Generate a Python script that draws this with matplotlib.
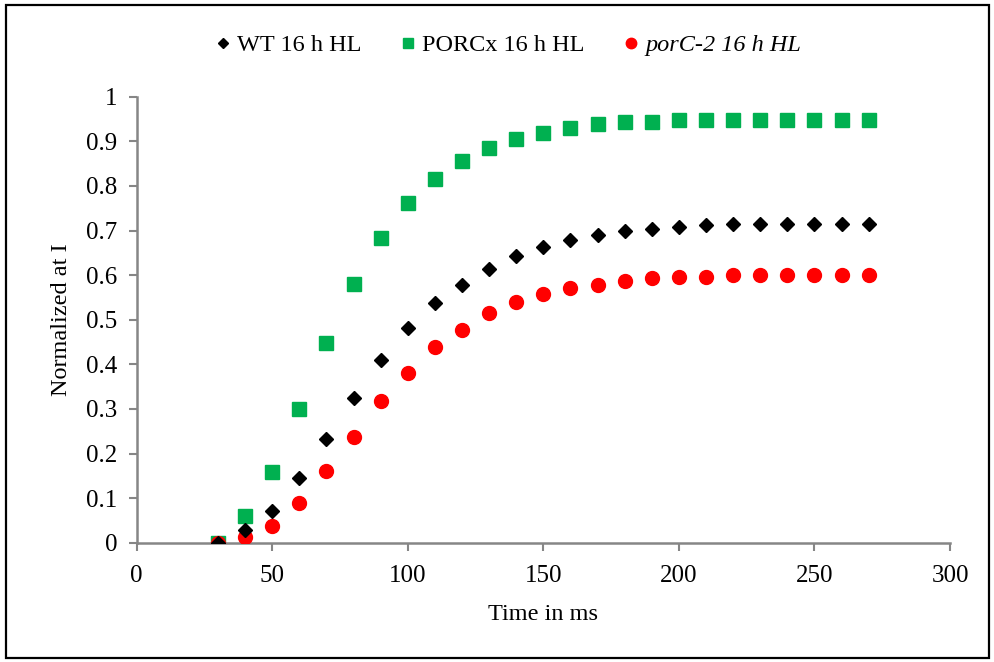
import numpy as np
import matplotlib.pyplot as plt
from matplotlib.patches import Rectangle

plt.rcParams['font.family'] = ['Liberation Serif', 'DejaVu Serif']

# sampling times (ms)
time_ms = [30, 40, 50, 60, 70, 80, 90, 100, 110, 120, 130, 140, 150,
           160, 170, 180, 190, 200, 210, 220, 230, 240, 250, 260, 270]

wt = [0.0, 0.028, 0.071, 0.144, 0.232, 0.324, 0.409, 0.481, 0.538, 0.578,
      0.614, 0.643, 0.664, 0.679, 0.691, 0.700, 0.703, 0.708, 0.712, 0.715,
      0.715, 0.715, 0.715, 0.715, 0.715]

porcx = [0.0, 0.060, 0.159, 0.300, 0.448, 0.580, 0.683, 0.761, 0.815, 0.856,
         0.885, 0.905, 0.918, 0.930, 0.939, 0.943, 0.943, 0.948, 0.948, 0.948,
         0.948, 0.948, 0.948, 0.948, 0.948]

porc2 = [0.0, 0.013, 0.038, 0.088, 0.160, 0.238, 0.317, 0.381, 0.439, 0.478,
         0.514, 0.539, 0.558, 0.572, 0.578, 0.586, 0.593, 0.596, 0.596, 0.600,
         0.600, 0.600, 0.600, 0.600, 0.600]

xticks = [0, 50, 100, 150, 200, 250, 300]
yticks = [0, 0.1, 0.2, 0.3, 0.4, 0.5, 0.6, 0.7, 0.8, 0.9, 1]
ytick_labels = ["0", "0.1", "0.2", "0.3", "0.4", "0.5", "0.6", "0.7", "0.8", "0.9", "1"]

fig = plt.figure(figsize=(9.95, 6.62), dpi=100)
ax = fig.add_axes([0.1374, 0.1802, 0.8174, 0.6737])

green = "#00B050"
red = "#FF0000"
axis_gray = "#868686"

ax.plot(time_ms, porc2, linestyle="none", marker="o", markersize=10,
        color=red, label="porC-2 16 h HL", zorder=3)
ax.plot(time_ms, wt, linestyle="none", marker="D", markersize=7,
        color="black", label="WT 16 h HL", zorder=4)
ax.plot(time_ms, porcx, linestyle="none", marker="s", markersize=10,
        color=green, label="PORCx 16 h HL", zorder=2)

ax.set_xlim(0, 300)
ax.set_ylim(0, 1)
ax.set_xticks(xticks)
ax.set_yticks(yticks)
ax.set_yticklabels(ytick_labels)

for side in ["top", "right"]:
    ax.spines[side].set_visible(False)
for side in ["left", "bottom"]:
    ax.spines[side].set_color(axis_gray)
    ax.spines[side].set_linewidth(1.8)
ax.tick_params(axis="both", direction="out", length=6, width=1.5,
               color=axis_gray, labelsize=18)
ax.tick_params(axis="x", pad=10)
ax.tick_params(axis="y", pad=8)

ax.set_xlabel("Time in ms", fontsize=17.5, labelpad=12)
ax.set_ylabel("Normalized at I", fontsize=17.5, labelpad=10)

handles, labels = ax.get_legend_handles_labels()
order = [1, 2, 0]
leg = fig.legend([handles[i] for i in order], [labels[i] for i in order],
                 loc="center", bbox_to_anchor=(0.511, 0.932), ncol=3,
                 frameon=False, fontsize=17.5, handlelength=0.6,
                 handletextpad=0.3, columnspacing=1.6, markerscale=0.75)
leg.get_texts()[2].set_fontstyle("italic")

# thin black frame around the whole figure
fig.patches.append(Rectangle((0.006, 0.006), 0.988, 0.986, transform=fig.transFigure,
                             fill=False, edgecolor="black", linewidth=1.6))

fig.savefig("out.png", dpi=100)
